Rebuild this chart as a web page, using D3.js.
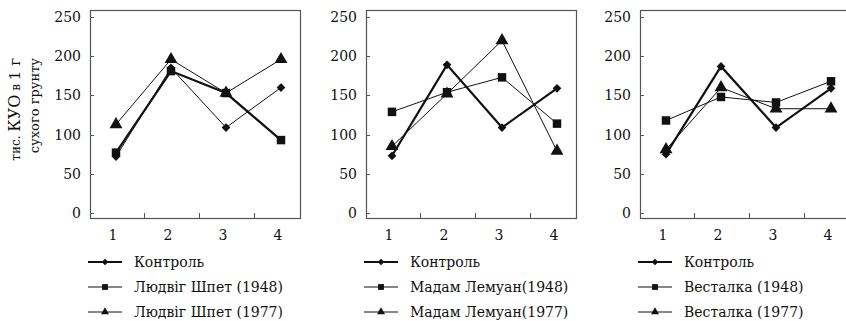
<!DOCTYPE html>
<html><head><meta charset="utf-8">
<script src="https://cdn.jsdelivr.net/npm/d3@7"></script>
<style>body{margin:0;background:#fff}svg{display:block}</style>
</head><body>
<script>
// ---- data ----
const categories = [1, 2, 3, 4];
const yTicks = [0, 50, 100, 150, 200, 250];
const panelNames = ["Людвіг Шпет", "Мадам Лемуан", "Весталка"];
const controlLabel = "Контроль";
const legend1 = ["Людвіг Шпет (1948)", "Мадам Лемуан(1948)", "Весталка (1948)"];
const legend2 = ["Людвіг Шпет (1977)", "Мадам Лемуан(1977)", "Весталка (1977)"];
const control = [
  [72, 185, 109, 160],
  [73, 189, 109, 159],
  [75, 187, 109, 159]
];
const series1948 = [
  [77, 181, 153, 93],
  [129, 154, 173, 114],
  [118, 148, 141, 168]
];
const series1977 = [
  [113, 196, 153, 196],
  [85, 152, 220, 79],
  [81, 160, 133, 133]
];
const yTitle1 = ["тис. ", "КУО", " в ", "1 г"];
const yTitle2 = "сухого грунту";

// ---- layout / style ----
const W = 846, H = 321;
const offsets = [90, 366, 640];
const frameW = 210, frameTop = 10, frameBottom = 218;
const thickIdx = [1, 0, 0]; // which series draws with heavy line per panel
const font = "'DejaVu Serif', serif";
const ink = "#111";

const svg = d3.select("body").append("svg").attr("width", W).attr("height", H);
const y = d3.scaleLinear().domain([0, 250]).range([213, 17]);

// diamond drawn as a square rotated 45°
const shapes = [d3.symbolSquare, d3.symbolSquare, d3.symbolTriangle];
const rotations = [45, 0, 0];
const sizes = [38, 72, 72];
const legendSizes = [22, 34, 28];

// y title
const t1 = svg.append("text").attr("transform", "translate(20,58) rotate(-90)")
  .attr("text-anchor", "end").attr("font-family", font).attr("fill", ink);
const t1sizes = [12, 16, 12, 15];
yTitle1.forEach((s, i) => t1.append("tspan").attr("font-size", t1sizes[i]).text(s));
svg.append("text").attr("transform", "translate(39,58) rotate(-90)")
  .attr("text-anchor", "end").attr("font-family", font).attr("font-size", 13)
  .attr("fill", ink).text(yTitle2);

offsets.forEach((off, p) => {
  const g = svg.append("g");
  const x = d3.scalePoint().domain(categories).range([off + 26, off + 191]);
  // frame
  g.append("rect").attr("x", off + 0.5).attr("y", frameTop + 0.5)
    .attr("width", frameW).attr("height", frameBottom - frameTop)
    .attr("fill", "none").attr("stroke", "#555").attr("stroke-width", 1.2);
  // y ticks
  yTicks.forEach(v => {
    g.append("line").attr("x1", off).attr("x2", off + 4)
      .attr("y1", Math.round(y(v)) + 0.5).attr("y2", Math.round(y(v)) + 0.5)
      .attr("stroke", "#555");
    g.append("text").attr("x", off - 9).attr("y", y(v))
      .attr("dy", "0.36em").attr("text-anchor", "end")
      .attr("font-family", font).attr("font-size", 14).attr("fill", ink).text(v);
  });
  // x ticks between categories
  for (let i = 0; i < categories.length - 1; i++) {
    const xm = Math.round((x(categories[i]) + x(categories[i + 1])) / 2) + 0.5;
    g.append("line").attr("x1", xm).attr("x2", xm)
      .attr("y1", frameBottom).attr("y2", frameBottom - 5).attr("stroke", "#555");
  }
  categories.forEach(c => {
    g.append("text").attr("x", x(c) - 3).attr("y", 240)
      .attr("text-anchor", "middle").attr("font-family", font)
      .attr("font-size", 14).attr("fill", ink).text(c);
  });
  // series
  const data = [control[p], series1948[p], series1977[p]];
  const line = d3.line().x((d, i) => x(categories[i])).y(d => y(d));
  data.forEach((vals, si) => {
    g.append("path").attr("d", line(vals)).attr("fill", "none")
      .attr("stroke", ink).attr("stroke-width", si === thickIdx[p] ? 2.2 : 1)
      .attr("stroke-linejoin", "miter");
  });
  data.forEach((vals, si) => {
    vals.forEach((v, i) => {
      g.append("path").attr("d", d3.symbol().type(shapes[si]).size(sizes[si])())
        .attr("transform", `translate(${x(categories[i])},${y(v)}) rotate(${rotations[si]})`)
        .attr("fill", ink);
    });
  });
  // legend
  const labels = [controlLabel, legend1[p], legend2[p]];
  labels.forEach((lab, si) => {
    const ly = 262 + si * 25;
    g.append("line").attr("x1", off - 2).attr("x2", off + 32)
      .attr("y1", ly).attr("y2", ly).attr("stroke", ink)
      .attr("stroke-width", si === 0 ? 2 : 1);
    g.append("path").attr("d", d3.symbol().type(shapes[si]).size(legendSizes[si])())
      .attr("transform", `translate(${off + 15},${ly}) rotate(${rotations[si]})`)
      .attr("fill", ink);
    g.append("text").attr("x", off + 44).attr("y", ly).attr("dy", "0.35em")
      .attr("font-family", font).attr("font-size", 14).attr("fill", ink).text(lab);
  });
});
</script>
</body></html>
